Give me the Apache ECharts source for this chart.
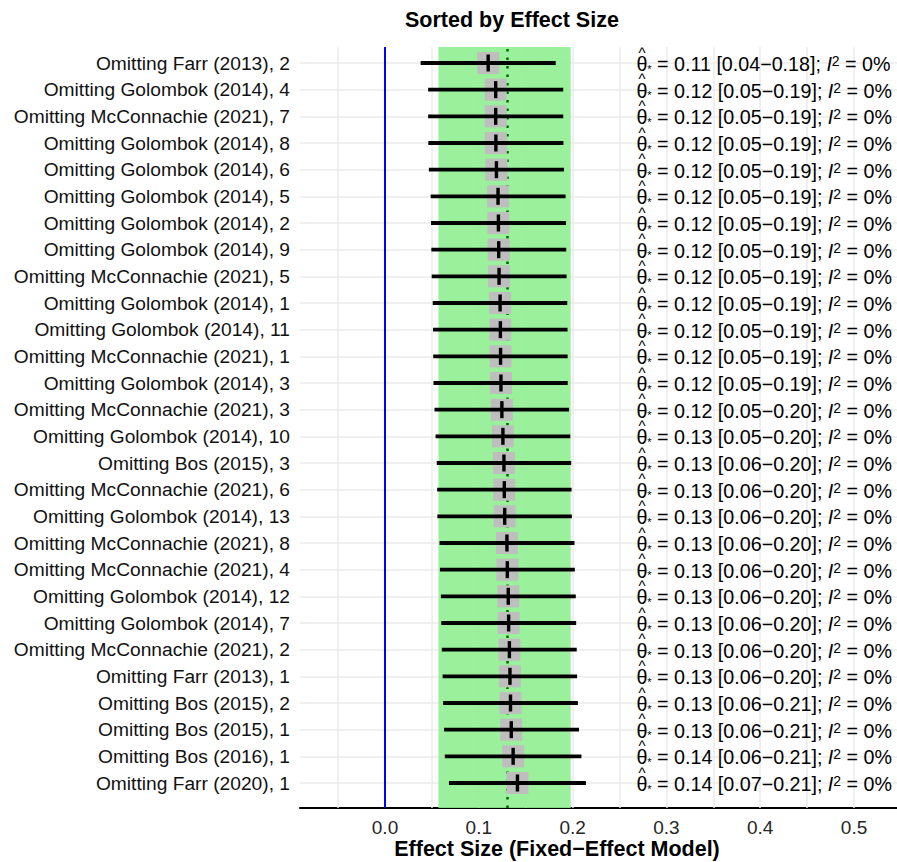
<!DOCTYPE html>
<html>
<head>
<meta charset="utf-8">
<script src="https://cdn.jsdelivr.net/npm/echarts@6/dist/echarts.min.js"></script>
<style>
  html, body { margin: 0; padding: 0; background: #ffffff; }
  #chart { width: 897px; height: 862px; }
</style>
</head>
<body>
<div id="chart"></div>
<script>
// Leave-one-out results, sorted by pooled effect size (top row first)
const studies = [
  'Omitting Farr (2013), 2',
  'Omitting Golombok (2014), 4',
  'Omitting McConnachie (2021), 7',
  'Omitting Golombok (2014), 8',
  'Omitting Golombok (2014), 6',
  'Omitting Golombok (2014), 5',
  'Omitting Golombok (2014), 2',
  'Omitting Golombok (2014), 9',
  'Omitting McConnachie (2021), 5',
  'Omitting Golombok (2014), 1',
  'Omitting Golombok (2014), 11',
  'Omitting McConnachie (2021), 1',
  'Omitting Golombok (2014), 3',
  'Omitting McConnachie (2021), 3',
  'Omitting Golombok (2014), 10',
  'Omitting Bos (2015), 3',
  'Omitting McConnachie (2021), 6',
  'Omitting Golombok (2014), 13',
  'Omitting McConnachie (2021), 8',
  'Omitting McConnachie (2021), 4',
  'Omitting Golombok (2014), 12',
  'Omitting Golombok (2014), 7',
  'Omitting McConnachie (2021), 2',
  'Omitting Farr (2013), 1',
  'Omitting Bos (2015), 2',
  'Omitting Bos (2015), 1',
  'Omitting Bos (2016), 1',
  'Omitting Farr (2020), 1'
];
const estimates = [
  0.1100, 0.1180, 0.1180, 0.1182, 0.1188, 0.1205, 0.1209, 0.1212,
  0.1216, 0.1227, 0.1230, 0.1232, 0.1236, 0.1246, 0.1257, 0.1268,
  0.1272, 0.1276, 0.1300, 0.1304, 0.1314, 0.1318, 0.1326, 0.1332,
  0.1338, 0.1346, 0.1366, 0.1412
];
const ciLower = [
  0.0380, 0.0460, 0.0460, 0.0462, 0.0468, 0.0487, 0.0491, 0.0494,
  0.0498, 0.0509, 0.0512, 0.0514, 0.0517, 0.0528, 0.0539, 0.0552,
  0.0556, 0.0558, 0.0582, 0.0586, 0.0596, 0.0600, 0.0606, 0.0614,
  0.0620, 0.0630, 0.0638, 0.0682
];
const ciUpper = [
  0.1820, 0.1900, 0.1900, 0.1902, 0.1908, 0.1925, 0.1929, 0.1932,
  0.1936, 0.1943, 0.1946, 0.1947, 0.1948, 0.1962, 0.1975, 0.1985,
  0.1989, 0.1992, 0.2020, 0.2024, 0.2034, 0.2038, 0.2044, 0.2048,
  0.2056, 0.2068, 0.2094, 0.2142
];
const i2Percent = [
  0, 0, 0, 0, 0, 0, 0, 0, 0, 0, 0, 0, 0, 0,
  0, 0, 0, 0, 0, 0, 0, 0, 0, 0, 0, 0, 0, 0
];

// Pooled fixed-effect estimate and its confidence interval
const pooledEstimate = 0.1275;
const pooledLower = 0.0570;
const pooledUpper = 0.1980;

// Axis ticks
const xMajorTicks = [0, 0.1, 0.2, 0.3, 0.4, 0.5];
const xMinorTicks = [-0.05, 0.05, 0.15, 0.25, 0.35, 0.45];

const X_MIN = -0.0906;
const X_MAX = 0.5458;
const TEXT_X = 0.268;
const FONT = "'Liberation Sans', Arial, Helvetica, sans-serif";

const rowData = studies.map((s, i) => [i, estimates[i], ciLower[i], ciUpper[i], i2Percent[i]]);

function renderRow(params, api) {
  const idx = api.value(0);
  const pEst = api.coord([api.value(1), idx]);
  const pLo = api.coord([api.value(2), idx]);
  const pHi = api.coord([api.value(3), idx]);
  const y = pEst[1];
  const half = 11;
  return {
    type: 'group',
    children: [
      { type: 'rect', shape: { x: pEst[0] - half, y: y - half, width: 2 * half, height: 2 * half },
        style: { fill: '#BEBEBE' } },
      { type: 'line', shape: { x1: pLo[0], y1: y, x2: pHi[0], y2: y },
        style: { stroke: '#000000', lineWidth: 3.8 } },
      { type: 'line', shape: { x1: pEst[0], y1: y - 8.5, x2: pEst[0], y2: y + 8.5 },
        style: { stroke: '#000000', lineWidth: 3.4 } }
    ]
  };
}

function renderNote(params, api) {
  const idx = api.value(0);
  const p = api.coord([TEXT_X, idx]);
  const est = api.value(1).toFixed(2);
  const lo = api.value(2).toFixed(2);
  const hi = api.value(3).toFixed(2);
  const i2 = api.value(4);
  const body = '{th|θ}{st|*}{n| = ' + est + ' [' + lo + '\u2212' + hi + ']; }{it|I}{sup|2}{n| = ' + i2 + '%}';
  return {
    type: 'group',
    children: [
      { type: 'text', x: p[0], y: p[1] + 1,
        style: {
          text: body, align: 'left', verticalAlign: 'middle', fill: '#000000',
          fontFamily: FONT, fontSize: 19.7,
          rich: {
            th: { fontFamily: FONT, fontSize: 19.7, fill: '#000000' },
            st: { fontFamily: FONT, fontSize: 11, fill: '#000000', verticalAlign: 'bottom' },
            n: { fontFamily: FONT, fontSize: 19.7, fill: '#000000' },
            it: { fontFamily: FONT, fontSize: 19.7, fontStyle: 'italic', fill: '#000000' },
            sup: { fontFamily: FONT, fontSize: 14, fill: '#000000', verticalAlign: 'top' }
          }
        } },
      { type: 'text', x: p[0] + 5.5, y: p[1] - 11,
        style: { text: '^', align: 'center', verticalAlign: 'middle', fill: '#000000',
                 fontFamily: FONT, fontSize: 15 } }
    ]
  };
}

const chart = echarts.init(document.getElementById('chart'), null, { renderer: 'svg' });

chart.setOption({
  animation: false,
  backgroundColor: '#ffffff',
  title: {
    text: 'Sorted by Effect Size',
    left: 405, top: 9, padding: 0,
    textStyle: { fontFamily: FONT, fontSize: 21.5, fontWeight: 'bold', color: '#000000' }
  },
  grid: [
    { left: 300, right: 0, top: 47, bottom: 54, containLabel: false, outerBoundsMode: 'none' },
    { left: 300, right: 0, top: 63, bottom: 79, containLabel: false, outerBoundsMode: 'none' }
  ],
  xAxis: [
    {
      gridIndex: 0, type: 'value', min: X_MIN, max: X_MAX,
      axisLine: { show: true, onZero: false, lineStyle: { color: '#000000', width: 2 } },
      axisTick: { show: false },
      splitLine: { show: false },
      axisLabel: {
        customValues: xMajorTicks,
        formatter: v => v.toFixed(1),
        fontFamily: FONT, fontSize: 19, color: '#262626', margin: 10
      },
      name: 'Effect Size (Fixed\u2212Effect Model)',
      nameLocation: 'middle', nameGap: 30, nameMoveOverlap: false,
      nameTextStyle: { fontFamily: FONT, fontSize: 21.5, fontWeight: 'bold', color: '#000000',
                       lineHeight: 22, padding: [0, 83, 0, 0] }
    },
    { gridIndex: 1, type: 'value', min: X_MIN, max: X_MAX, show: false }
  ],
  yAxis: [
    { gridIndex: 0, type: 'value', min: 0, max: 1, show: false },
    {
      gridIndex: 1, type: 'category', data: studies, inverse: true, boundaryGap: false,
      axisLine: { show: false }, axisTick: { show: false },
      axisLabel: { interval: 0, fontFamily: FONT, fontSize: 19.2, color: '#111111', margin: 10 },
      splitLine: { show: true, interval: 0, lineStyle: { color: '#EBEBEB', width: 1.5 } }
    }
  ],
  series: [
    {
      name: 'grid', type: 'line', xAxisIndex: 0, yAxisIndex: 0, data: [], z: 1, silent: true,
      markLine: {
        z: 1, silent: true, symbol: ['none', 'none'], label: { show: false },
        lineStyle: { color: '#EBEBEB', width: 1.5, type: 'solid' },
        data: xMajorTicks.concat(xMinorTicks).map(v => ({ xAxis: v }))
      }
    },
    {
      name: 'pooled CI', type: 'line', xAxisIndex: 0, yAxisIndex: 0, data: [], z: 2, silent: true,
      markArea: {
        z: 2, silent: true,
        itemStyle: { color: '#90EE90', opacity: 0.9 },
        data: [[{ xAxis: pooledLower }, { xAxis: pooledUpper }]]
      }
    },
    {
      name: 'reference', type: 'line', xAxisIndex: 0, yAxisIndex: 0, data: [], z: 3, silent: true,
      markLine: {
        z: 3, silent: true, symbol: ['none', 'none'], label: { show: false },
        data: [
          { xAxis: 0, lineStyle: { color: '#0000FF', width: 2, type: 'solid' } },
          { xAxis: pooledEstimate, lineStyle: { color: '#006400', width: 2.5, type: [2.5, 6], cap: 'butt' } }
        ]
      }
    },
    {
      name: 'leave-one-out', type: 'custom', xAxisIndex: 1, yAxisIndex: 1, z: 4,
      data: rowData, encode: { x: [1, 2, 3], y: 0 }, renderItem: renderRow
    },
    {
      name: 'notes', type: 'custom', xAxisIndex: 1, yAxisIndex: 1, z: 5,
      data: rowData, encode: { x: 1, y: 0 }, renderItem: renderNote
    }
  ]
});
</script>
</body>
</html>
